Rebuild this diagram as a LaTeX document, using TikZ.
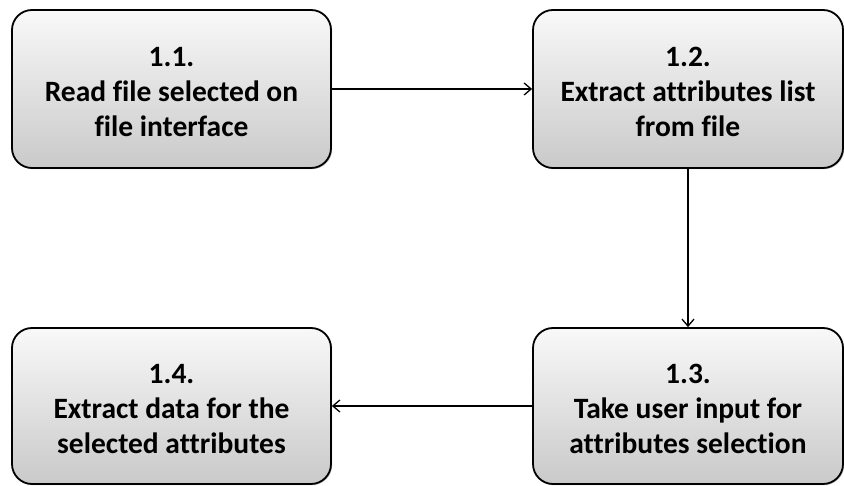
\documentclass[tikz,border=0pt]{standalone}
\usepackage{fontspec}
\setmainfont{Carlito}[Ligatures=NoCommon]
\usetikzlibrary{arrows.meta,shadows}
% first-line strut that lowers each text block slightly in its box
\newcommand{\toppad}{\rule{0pt}{25pt}}
\begin{document}
\begin{tikzpicture}[x=1pt,y=-1pt,
  stepbox/.style={draw=black, line width=1.8pt, rounded corners=20pt,
    top color=gray!5, bottom color=gray!42,
    minimum width=319pt, minimum height=158pt, align=center,
    font=\bfseries\fontsize{29.5}{35}\selectfont, text=black, inner sep=0pt,
    drop shadow={shadow xshift=1.2pt, shadow yshift=-1.2pt, opacity=0.45}},
  flow/.style={line width=1.3pt, -{Straight Barb[length=7pt,width=12pt,line width=1.3pt]}}]
\useasboundingbox (0,0) rectangle (844,486);
\node[stepbox] (s1) at (171.5,89) {\toppad 1.1.\\Read file selected on\\file interface};
\node[stepbox, minimum width=310pt] (s2) at (688,89) {\toppad 1.2.\\Extract attributes list\\from file};
\node[stepbox, minimum width=310pt, minimum height=156pt] (s3) at (688,406) {\toppad 1.3.\\Take user input for\\attributes selection};
\node[stepbox, minimum height=156pt] (s4) at (171.5,406) {\toppad 1.4.\\Extract data for the\\selected attributes};
\draw[flow] (s1) -- (s2);
\draw[flow] (s2) -- (s3);
\draw[flow] (s3) -- (s4);
\end{tikzpicture}
\end{document}
